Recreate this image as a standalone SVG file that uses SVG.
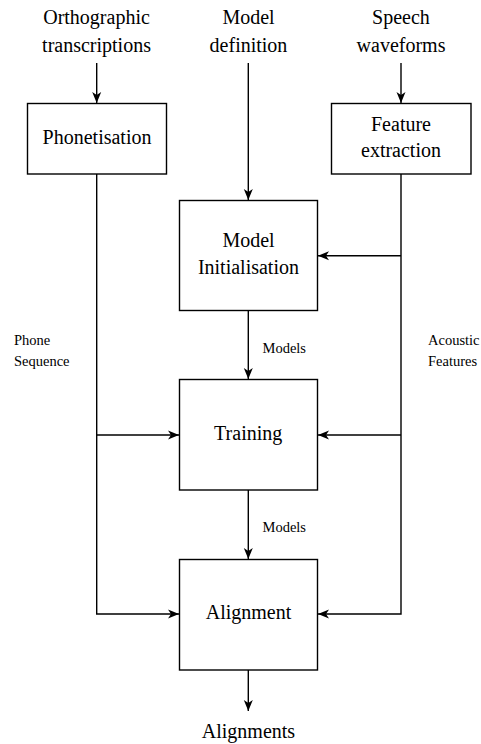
<svg xmlns="http://www.w3.org/2000/svg" width="481" height="744" viewBox="0 0 481 744">
<style>
.box{fill:#fff;stroke:#000;stroke-width:1.4}
.line{fill:none;stroke:#000;stroke-width:1.4}
.arr{marker-end:url(#ah)}
</style>
<defs>
<marker id="ah" markerUnits="userSpaceOnUse" markerWidth="12" markerHeight="10" refX="11" refY="5" orient="auto">
<path d="M0,0.5 L11,5 L0,9.5 L3,5 z" fill="#000"/>
</marker>
</defs>
<g font-family="Liberation Serif" font-size="20" fill="#000">
<g id="inputs">
<text x="43.2" y="24">Orthographic</text>
<text x="42.1" y="51.5">transcriptions</text>
<text x="222.4" y="24">Model</text>
<text x="209.6" y="51.5">definition</text>
<text x="372.1" y="24">Speech</text>
<text x="356.6" y="51.5">waveforms</text>
</g>
<g id="phonetisation">
<rect class="box" x="27.5" y="103.5" width="139" height="70.5"/>
<text x="42.6" y="144">Phonetisation</text>
</g>
<g id="feature-extraction">
<rect class="box" x="331.5" y="103.5" width="139.5" height="70.5"/>
<text x="371" y="130.5">Feature</text>
<text x="361" y="157">extraction</text>
</g>
<g id="model-init">
<rect class="box" x="179.5" y="200.5" width="138" height="110"/>
<text x="222.4" y="246.5">Model</text>
<text x="197.9" y="274">Initialisation</text>
</g>
<g id="training">
<rect class="box" x="179.5" y="379.5" width="138" height="110.5"/>
<text x="214.1" y="440">Training</text>
</g>
<g id="alignment">
<rect class="box" x="179.5" y="559.5" width="138" height="110.5"/>
<text x="205.7" y="619">Alignment</text>
</g>
<g id="output">
<text x="201.8" y="738">Alignments</text>
</g>
</g>
<g id="connectors">
<line class="line arr" x1="96.7" y1="63" x2="96.7" y2="103"/>
<line class="line arr" x1="248.3" y1="63" x2="248.3" y2="200"/>
<line class="line arr" x1="401" y1="63" x2="401" y2="103"/>
<polyline class="line arr" points="96.7,174 96.7,614 179,614"/>
<line class="line arr" x1="96.7" y1="435" x2="179" y2="435"/>
<polyline class="line arr" points="401,174 401,614 318,614"/>
<line class="line arr" x1="401" y1="255.7" x2="318" y2="255.7"/>
<line class="line arr" x1="401" y1="435" x2="318" y2="435"/>
<line class="line arr" x1="248.3" y1="311" x2="248.3" y2="379"/>
<line class="line arr" x1="248.3" y1="490" x2="248.3" y2="559"/>
<line class="line arr" x1="248.3" y1="670" x2="248.3" y2="711"/>
<g font-family="Liberation Serif" font-size="14.5" fill="#000">
<text x="262.5" y="353">Models</text>
<text x="262.5" y="532">Models</text>
<text x="14" y="345">Phone</text>
<text x="14" y="366">Sequence</text>
<text x="428" y="345">Acoustic</text>
<text x="428" y="366">Features</text>
</g>
</g>
</svg>
